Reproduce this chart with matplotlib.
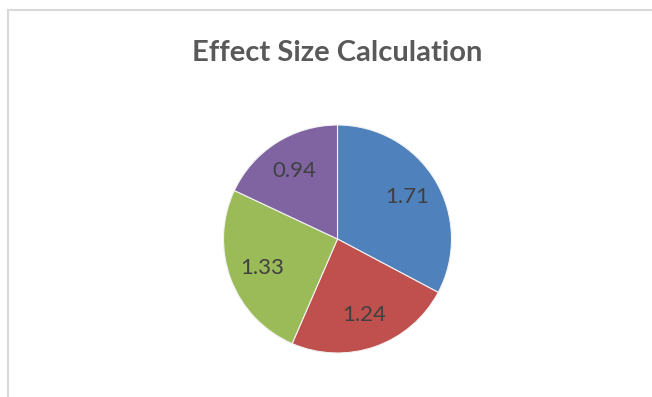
import matplotlib
matplotlib.use("Agg")
import matplotlib.pyplot as plt
from matplotlib.lines import Line2D

# data
values = [1.71, 1.24, 1.33, 0.94]
labels = ["1.71", "1.24", "1.33", "0.94"]
colors = ["#4F81BD", "#C0504D", "#9BBB59", "#8064A2"]
title = "Effect Size Calculation"

W, H = 652, 397
fig = plt.figure(figsize=(W / 100, H / 100), dpi=100)
fig.patch.set_facecolor("white")

# chart area border (left and top visible)
fig.add_artist(Line2D([8 / W, 8 / W], [0, 1 - 10 / H], color="#d9d9d9", lw=1.5))
fig.add_artist(Line2D([8 / W, 1], [1 - 10 / H, 1 - 10 / H], color="#d9d9d9", lw=1.5))

fig.text(337 / W, 1 - 53 / H, title, ha="center", va="center",
         fontsize=21, fontweight="bold", color="#595959", family="Lato")

# pie axes: centre (337.5, 239) px, radius 114 px
cx, cy, r = 337.5, 239, 114
ax = fig.add_axes([(cx - r) / W, (H - cy - r) / H, 2 * r / W, 2 * r / H])
it = iter(labels)
wedges, texts, autotexts = ax.pie(values, colors=colors, startangle=90, counterclock=False,
                                  autopct=lambda p: next(it), pctdistance=0.71,
                                  wedgeprops=dict(edgecolor="#f2f2f2", linewidth=0.8))
for t in autotexts:
    t.set_fontsize(16)
    t.set_color("#404040")
    t.set_family("Lato")
ax.set_xlim(-1, 1)
ax.set_ylim(-1, 1)
ax.set_aspect("equal")
ax.axis("off")

fig.savefig("out.png", dpi=100)
